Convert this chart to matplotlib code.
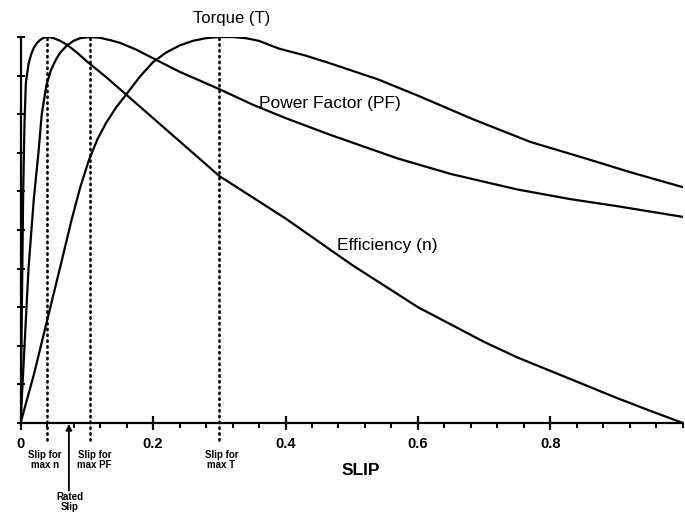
import matplotlib
matplotlib.use("Agg")
import matplotlib.pyplot as plt
from matplotlib.ticker import MultipleLocator, FixedLocator

plt.rcParams['font.family'] = ['Liberation Sans', 'DejaVu Sans']

# Efficiency (n) vs slip
eff_s = [0.0, 0.001, 0.002, 0.004, 0.006, 0.008, 0.012, 0.016, 0.02, 0.025, 0.03, 0.035, 0.04, 0.045, 0.05,
         0.06, 0.07, 0.085, 0.1, 0.13, 0.16, 0.2, 0.27, 0.3,
         0.35, 0.4, 0.45, 0.5, 0.55, 0.6, 0.65, 0.7, 0.75, 0.8, 0.85, 0.9, 0.95, 1.0]
eff_v = [0.0, 0.15, 0.3, 0.6, 0.78, 0.88, 0.93, 0.955, 0.972, 0.985, 0.993, 0.998, 1.0, 0.999, 0.997,
         0.99, 0.98, 0.96, 0.937, 0.895, 0.85, 0.79, 0.685, 0.64,
         0.585, 0.53, 0.47, 0.41, 0.355, 0.30, 0.255, 0.21, 0.17, 0.135, 0.10, 0.065, 0.032, 0.0]

# Power factor (PF) vs slip
pf_s = [0.0, 0.006, 0.012, 0.02, 0.027, 0.032, 0.039, 0.046, 0.053, 0.06, 0.07, 0.08, 0.09, 0.105, 0.12,
        0.135, 0.15, 0.175, 0.2, 0.24, 0.3, 0.35, 0.4, 0.47, 0.57, 0.65, 0.75, 0.83, 0.9, 1.0]
pf_v = [0.0, 0.2, 0.4, 0.58, 0.7, 0.8, 0.875, 0.915, 0.94, 0.96, 0.978, 0.99, 0.997, 1.0, 0.998,
        0.992, 0.985, 0.967, 0.945, 0.91, 0.865, 0.825, 0.79, 0.745, 0.685, 0.645, 0.605, 0.58, 0.562, 0.534]

# Torque (T) vs slip
tq_s = [0.0, 0.02, 0.04, 0.06, 0.077, 0.09, 0.103, 0.116, 0.129, 0.144, 0.159, 0.18, 0.2, 0.22, 0.24, 0.26,
        0.28, 0.3, 0.32, 0.34, 0.36, 0.39, 0.43, 0.467, 0.54, 0.6, 0.683, 0.77, 0.85, 0.92, 1.0]
tq_v = [0.0, 0.125, 0.265, 0.405, 0.526, 0.61, 0.68, 0.735, 0.777, 0.817, 0.85, 0.897, 0.935, 0.96, 0.978,
        0.99, 0.997, 1.0, 1.0, 0.997, 0.99, 0.97, 0.952, 0.932, 0.89, 0.848, 0.787, 0.728, 0.687, 0.65, 0.611]

xticks = [0, 0.2, 0.4, 0.6, 0.8]
xticklabels = ['0', '0.2', '0.4', '0.6', '0.8']

slip_max_n = 0.04
slip_max_pf = 0.105
slip_max_t = 0.30
rated_slip = 0.073

fig = plt.figure(figsize=(6.85, 5.14), dpi=100)
ax = fig.add_axes([0.030, 0.177, 0.967, 0.751])

lw = 1.6
for xs, ys in [(eff_s, eff_v), (pf_s, pf_v), (tq_s, tq_v)]:
    ax.plot(xs, ys, color='black', lw=lw, solid_joinstyle='round', solid_capstyle='round')

for s in [slip_max_n, slip_max_pf, slip_max_t]:
    ax.plot([s, s], [-0.045, 1.0], color='black', lw=1.9, linestyle=(0, (0.5, 1.7)),
            dash_capstyle='round', clip_on=False)

ax.set_xlim(0, 1.0)
ax.set_ylim(0, 1.0)

for sp in ['top', 'right']:
    ax.spines[sp].set_visible(False)
ax.spines['left'].set_linewidth(1.6)
ax.spines['bottom'].set_linewidth(1.6)

ax.xaxis.set_major_locator(FixedLocator(xticks))
ax.set_xticklabels(xticklabels, fontsize=10.5, fontweight='bold')
ax.xaxis.set_minor_locator(MultipleLocator(0.04))
ax.tick_params(axis='x', which='major', direction='inout', length=10, width=1.6, pad=5)
ax.tick_params(axis='x', which='minor', direction='out', length=3.5, width=1.4)
ax.yaxis.set_major_locator(MultipleLocator(0.1))
ax.tick_params(axis='y', which='major', direction='inout', length=6, width=1.4, labelleft=False)

# Curve labels
ax.text(0.318, 1.047, 'Torque (T)', fontsize=12, ha='center', va='center', clip_on=False)
ax.text(0.467, 0.829, 'Power Factor (PF)', fontsize=12.5, ha='center', va='center')
ax.text(0.553, 0.461, 'Efficiency (n)', fontsize=12.5, ha='center', va='center')

# Bottom annotations
small = 7
for xs, txt in [(0.037, 'Slip for\nmax n'), (0.112, 'Slip for\nmax PF'), (0.303, 'Slip for\nmax T')]:
    ax.text(xs, -0.096, txt, fontsize=small, ha='center', va='center', fontweight='bold',
            linespacing=1.0, clip_on=False)

ax.annotate('', xy=(rated_slip, -0.002), xytext=(rated_slip, -0.175), annotation_clip=False,
            arrowprops=dict(arrowstyle='-|>', color='black', lw=1.3, mutation_scale=9,
                            shrinkA=0, shrinkB=0))
ax.text(rated_slip + 0.001, -0.205, 'Rated\nSlip', fontsize=small, fontweight='bold', ha='center',
        va='center', linespacing=1.0, clip_on=False)

ax.text(0.513, -0.124, 'SLIP', fontsize=12.5, fontweight='bold', ha='center', va='center', clip_on=False)

fig.savefig('out.png', dpi=100)
